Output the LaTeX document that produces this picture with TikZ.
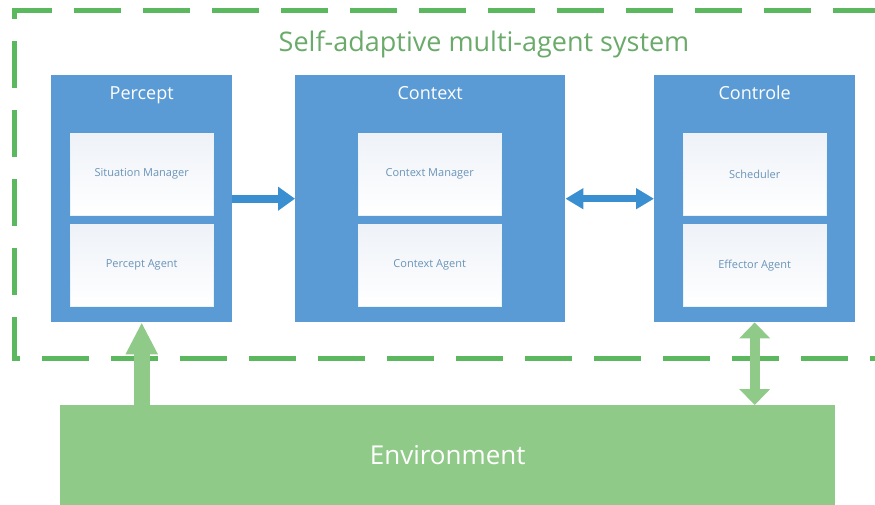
\documentclass[tikz,border=0pt]{standalone}
\usepackage{fontspec}
\setmainfont{Open Sans}
\usetikzlibrary{arrows.meta}
\definecolor{boxblue}{HTML}{5B9BD5}
\definecolor{linkblue}{HTML}{3A8FD0}
\definecolor{envgreen}{HTML}{90CA88}
\definecolor{dashgreen}{HTML}{5CB85F}
\definecolor{titlegreen}{HTML}{6AAA6A}
\definecolor{innertext}{HTML}{6A94B8}
\definecolor{innertop}{HTML}{EEF2F8}
\begin{document}
\begin{tikzpicture}[x=1pt,y=-1pt,
    outer/.style={rectangle, fill=boxblue, anchor=north west, inner sep=0pt, minimum height=247pt},
    inner/.style={rectangle, top color=innertop, bottom color=white, draw=boxblue!12, anchor=north west, inner sep=0pt,
        minimum width=143pt, minimum height=82pt, text=innertext, font=\fontsize{11}{13}\selectfont},
    head/.style={text=white, anchor=base, font=\fontsize{18}{21}\selectfont},
    blink/.style={draw=linkblue, line width=8pt},
    glink/.style={draw=envgreen, line width=16pt}]
\useasboundingbox (0,0) rectangle (875,504);
% system frame
\draw[dashgreen, line width=5pt, dash pattern=on 47pt off 22pt] (880,10) -| (14,358) -- (880,358);
\node[text=titlegreen, anchor=base, font=\fontsize{27}{32}\selectfont] (sys) at (484,51) {Self-adaptive multi-agent system};
% three blocks
\node[outer, minimum width=181pt] (percept) at (51,75) {};
\node[outer, minimum width=270pt] (ctx) at (295,75) {};
\node[outer, minimum width=201pt] (ctrl) at (654,75) {};
\node[head] (percepttitle) at (percept.north |- 0,99) {Percept};
\node[head] (ctxtitle) at (ctx.north |- 0,99) {Context};
\node[head] (ctrltitle) at (ctrl.north |- 0,99) {Controle};
\node[inner] (sitmgr) at (70,133) {Situation Manager};
\node[inner] (pagent) at (70,224) {Percept Agent};
\node[inner] (ctxmgr) at (358,133) {Context Manager};
\node[inner] (ctxagent) at (358,224) {Context Agent};
\node[inner] (sched) at (683,133) {Scheduler};
\node[inner] (effagent) at (683,224) {Effector Agent};
% environment
\node[rectangle, fill=envgreen, anchor=north west, inner sep=0pt, minimum width=775pt, minimum height=100pt,
    text=white, font=\fontsize{26}{30}\selectfont] (env) at (60,405) {Environment};
% links
\draw[blink, -{Triangle[width=23pt,length=17pt]}] (percept.east) -- (ctx.west);
\draw[blink, line width=7pt, {Triangle[width=20pt,length=18pt]}-{Triangle[width=20pt,length=18pt]}] (ctx.east) -- (ctrl.west);
\draw[glink, -{Triangle[width=30pt,length=32pt]}] (env.north -| percept.south) -- (percept.south);
\draw[glink, line width=10pt, {Triangle[width=30pt,length=16pt]}-{Triangle[width=30pt,length=16pt]}] (env.north -| ctrl.south) -- (ctrl.south);
\end{tikzpicture}
\end{document}
